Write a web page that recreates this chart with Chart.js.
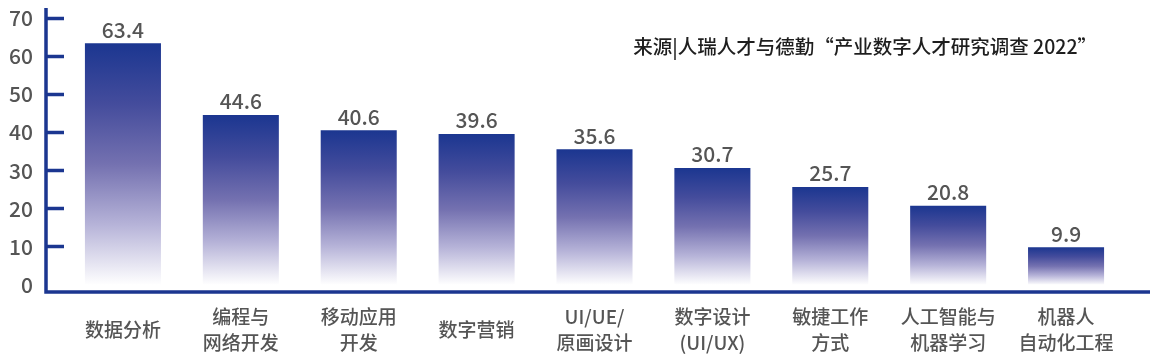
<!DOCTYPE html>
<html>
<head>
<meta charset="utf-8">
<script src="https://cdn.jsdelivr.net/npm/chart.js@4.4.0/dist/chart.umd.min.js"></script>
<style>
  html, body { margin: 0; padding: 0; background: #fff; }
  #wrap { position: relative; width: 1158px; height: 362px; }
  #source {
    position: absolute; right: 61px; top: 34px;
    font: 500 19.5px "Noto Sans CJK SC"; line-height: 24px; color: #1e1e1e; white-space: nowrap;
  }
</style>
</head>
<body>
<div id="wrap">
  <canvas id="chart" width="1158" height="362"></canvas>
  <div id="source">来源|人瑞人才与德勤“产业数字人才研究调查 2022”</div>
</div>
<script>
// data
const categories = [
  ['数据分析'], ['编程与', '网络开发'], ['移动应用', '开发'], ['数字营销'],
  ['UI/UE/', '原画设计'], ['数字设计', '(UI/UX)'], ['敏捷工作', '方式'],
  ['人工智能与', '机器学习'], ['机器人', '自动化工程']
];
const values = [63.4, 44.6, 40.6, 39.6, 35.6, 30.7, 25.7, 20.8, 9.9];
const yTicks = [0, 10, 20, 30, 40, 50, 60, 70];

const navy = '#1b3690';
const grey = '#555';
const font = '"Noto Sans CJK SC", "Noto Sans", sans-serif';

// each bar fades from navy at its top to white at the base
function barFill(ctx) {
  const chart = ctx.chart;
  const area = chart.chartArea;
  if (!area || !chart.scales.y) return navy;
  const top = chart.scales.y.getPixelForValue(values[ctx.dataIndex]);
  const g = chart.ctx.createLinearGradient(0, top, 0, area.bottom);
  g.addColorStop(0, '#1b3690');
  g.addColorStop(0.25, '#444c9c');
  g.addColorStop(0.5, '#7471b0');
  g.addColorStop(0.75, '#b6b3d8');
  g.addColorStop(1, '#ffffff');
  return g;
}

// axis lines (offset from the plot like the original) + value labels
const decor = {
  id: 'decor',
  afterDraw(chart) {
    const { ctx, chartArea } = chart;
    const axisX = chartArea.left - 18;
    const axisY = chartArea.bottom + 7;
    ctx.save();
    ctx.strokeStyle = navy;
    ctx.lineWidth = 3.5;
    ctx.beginPath();
    ctx.moveTo(axisX, chartArea.top - 10);
    ctx.lineTo(axisX, axisY);
    ctx.lineTo(chartArea.right + 25, axisY);
    ctx.stroke();

    ctx.fillStyle = grey;
    ctx.font = '500 21px ' + font;
    ctx.textAlign = 'center';
    ctx.textBaseline = 'bottom';
    chart.getDatasetMeta(0).data.forEach((bar, i) => {
      ctx.fillText(values[i].toFixed(1), bar.x, bar.y - 3);
    });
    ctx.restore();
  }
};

Chart.defaults.font.family = font;
Chart.defaults.font.weight = 500;

new Chart(document.getElementById('chart'), {
  type: 'bar',
  data: {
    labels: categories,
    datasets: [{
      data: values,
      backgroundColor: barFill,
      borderWidth: 0,
      categoryPercentage: 1,
      barPercentage: 0.645
    }]
  },
  options: {
    responsive: false,
    animation: false,
    devicePixelRatio: 1,
    layout: { padding: { top: 18, right: 33, left: 0, bottom: 0 } },
    plugins: {
      legend: { display: false },
      tooltip: { enabled: false }
    },
    scales: {
      x: {
        grid: { display: false, drawTicks: false },
        border: { display: false },
        ticks: {
          color: grey,
          font: { size: 19, lineHeight: 1.37 },
          padding: 32,
          maxRotation: 0,
          autoSkip: false,
          crossAlign: 'center'
        },
        afterFit: s => { s.height = 77; }
      },
      y: {
        min: 0,
        max: 70,
        afterBuildTicks: s => { s.ticks = yTicks.map(v => ({ value: v })); },
        grid: {
          drawOnChartArea: false,
          drawTicks: true,
          tickLength: 18,
          tickWidth: 3.5,
          tickColor: c => (c.tick && c.tick.value === 0 ? 'rgba(0,0,0,0)' : navy)
        },
        border: { display: false },
        ticks: {
          color: grey,
          font: { size: 21 },
          padding: 13
        },
        afterFit: s => { s.width = 64; s.paddingTop = 0; s.paddingBottom = 0; }
      }
    }
  },
  plugins: [decor]
});
</script>
</body>
</html>
